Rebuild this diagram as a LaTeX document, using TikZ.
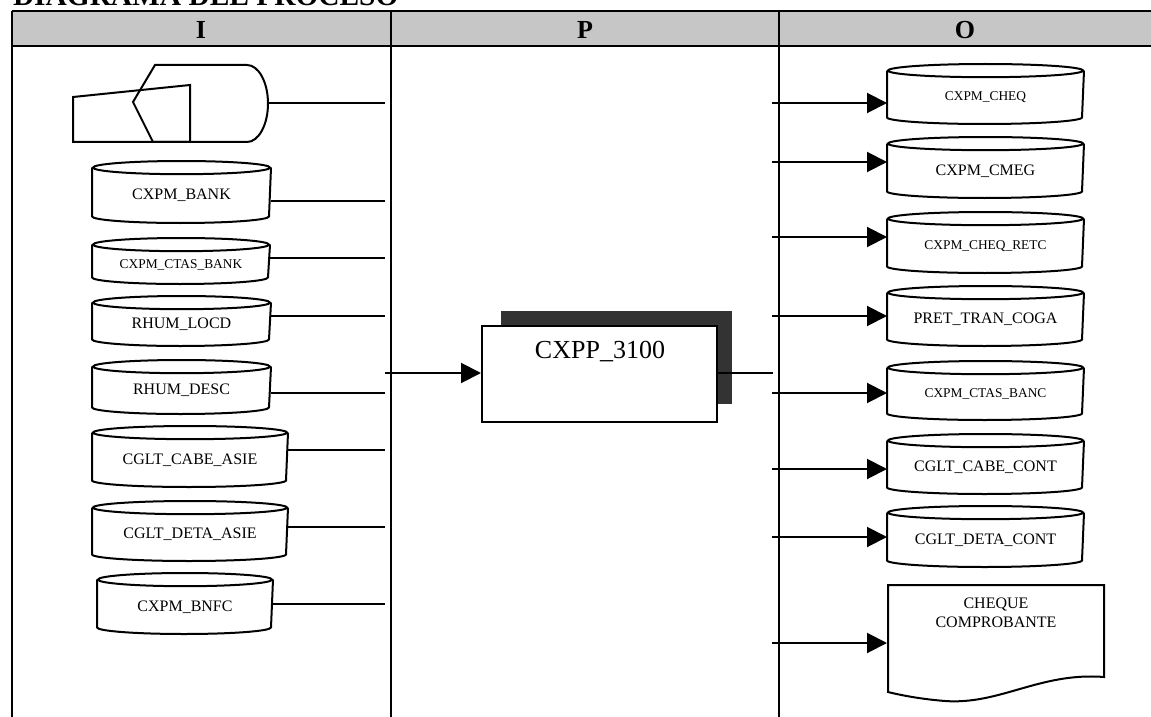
\documentclass[tikz,border=0pt]{standalone}
\usepackage{fontspec}
\setmainfont{Liberation Serif}
\usetikzlibrary{arrows.meta}
% data store drawn as an upright cylinder
\newcommand{\dbcyl}[7]{%
  \node[cyl, minimum width=#4*0.5pt, minimum height=#5*0.5pt] (#1) at (#2,#3) {};
  \node[#6, inner sep=0pt] (#1-lbl) at ([yshift=-1.8pt]#1.center) {#7};
  \draw ([yshift=-3.3pt]#1.north) ellipse[x radius=#4*0.25pt, y radius=3.3pt];
  \draw ([yshift=-3.3pt]#1.north west) -- ([yshift=3.3pt]#1.south west)
    arc[start angle=180, end angle=360, x radius=#4*0.25pt, y radius=3.3pt]
    -- ([yshift=-3.3pt]#1.north east);}

\begin{document}
\begin{tikzpicture}[x=0.5pt, y=-0.5pt, line width=1pt,
  cyl/.style={inner sep=0pt},
  dbtext/.style={font=\fontsize{8}{9.5}\selectfont},
  dbsmall/.style={font=\fontsize{6.7}{8}\selectfont},
  arr/.style={-{Triangle[length=10pt, width=10pt]}},
  hdr/.style={font=\bfseries\fontsize{13}{15}\selectfont, anchor=base, inner sep=0pt}]
\useasboundingbox (0,0) rectangle (1151,717);

% title and header row
\node[font=\bfseries\fontsize{14.7}{16}\selectfont, anchor=base west, inner sep=0pt]
  (title) at (12,6) {DIAGRAMA DEL PROCESO};
\fill[gray!45] (12,11) rectangle (1160,46);
\draw (12,11) -- (1160,11) (12,46) -- (1160,46);
\draw (12,11) -- (12,720) (391,11) -- (391,720) (779,11) -- (779,720);
\node[hdr] (hI) at (201,39) {I};
\node[hdr] (hP) at (585,39) {P};
\node[hdr] (hO) at (965,39) {O};

% inputs
\draw (73,97) -- (190,85) -- (190,142) -- (73,142) -- cycle;
\draw (133,102) -- (155,65) -- (247,65)
  arc[start angle=90, end angle=-90, x radius=10.5pt, y radius=19.25pt]
  -- (153,142) -- cycle;
\coordinate (disp) at (268,103);
\dbcyl{bank}{181.5}{192}{177}{60}{dbtext}{CXPM\_BANK}
\dbcyl{ctas}{181}{261}{176}{44}{dbsmall}{CXPM\_CTAS\_BANK}
\dbcyl{locd}{181.5}{321}{177}{48}{dbtext}{RHUM\_LOCD}
\dbcyl{desc}{181.5}{387}{177}{52}{dbtext}{RHUM\_DESC}
\dbcyl{cabea}{190}{456.5}{194}{59}{dbtext}{CGLT\_CABE\_ASIE}
\dbcyl{detaa}{190}{531}{194}{58}{dbtext}{CGLT\_DETA\_ASIE}
\dbcyl{bnfc}{185}{603.5}{174}{59}{dbtext}{CXPM\_BNFC}
\foreach \n/\y in {disp/103, bank/201, ctas/258, locd/316, desc/393,
                   cabea/450, detaa/527, bnfc/604} {
  \coordinate (\n-end) at (385,\y);
  \draw (\n.east |- \n-end) -- (\n-end);
}

% process
\fill[black!80] (501,311) rectangle (732,404);
\node[draw, fill=white, inner sep=0pt, minimum width=117.5pt, minimum height=48pt]
  (proc) at (599.5,374) {};
\node[font=\fontsize{13}{15}\selectfont, inner sep=0pt] (proclbl) at (600,352) {CXPP\_3100};
\coordinate (pin) at (385,373);
\coordinate (pout) at (773,373);
\draw[arr] (pin) -- (proc.west |- pin);
\draw (proc.east |- pout) -- (pout);

% outputs
\dbcyl{cheq}{985.5}{94}{195}{58}{dbsmall}{CXPM\_CHEQ}
\dbcyl{cmeg}{985.5}{167.5}{195}{59}{dbtext}{CXPM\_CMEG}
\dbcyl{retc}{985.5}{242.5}{195}{59}{dbsmall}{CXPM\_CHEQ\_RETC}
\dbcyl{coga}{985.5}{316}{195}{58}{dbtext}{PRET\_TRAN\_COGA}
\dbcyl{banc}{985.5}{390.5}{195}{57}{dbsmall}{CXPM\_CTAS\_BANC}
\dbcyl{cabec}{985.5}{464}{195}{58}{dbtext}{CGLT\_CABE\_CONT}
\dbcyl{detac}{985.5}{536.5}{195}{59}{dbtext}{CGLT\_DETA\_CONT}
\node[inner sep=0pt, minimum width=108pt, minimum height=57.5pt] (doc) at (996,642.5) {};
\draw (888,585) -- (1104,585) -- (1104,677)
  .. controls (1040,672) and (1000,705) .. (945,701)
  .. controls (920,699) and (900,695) .. (888,692) -- cycle;
\node[dbtext, align=center, anchor=north, inner sep=0pt] (doclbl) at (996,597)
  {CHEQUE\\COMPROBANTE};
\foreach \n/\y in {cheq/103, cmeg/162, retc/237, coga/316, banc/393,
                   cabec/469, detac/537, doc/643} {
  \coordinate (\n-in) at (772,\y);
  \draw[arr] (\n-in) -- (\n.west |- \n-in);
}
\end{tikzpicture}
\end{document}
